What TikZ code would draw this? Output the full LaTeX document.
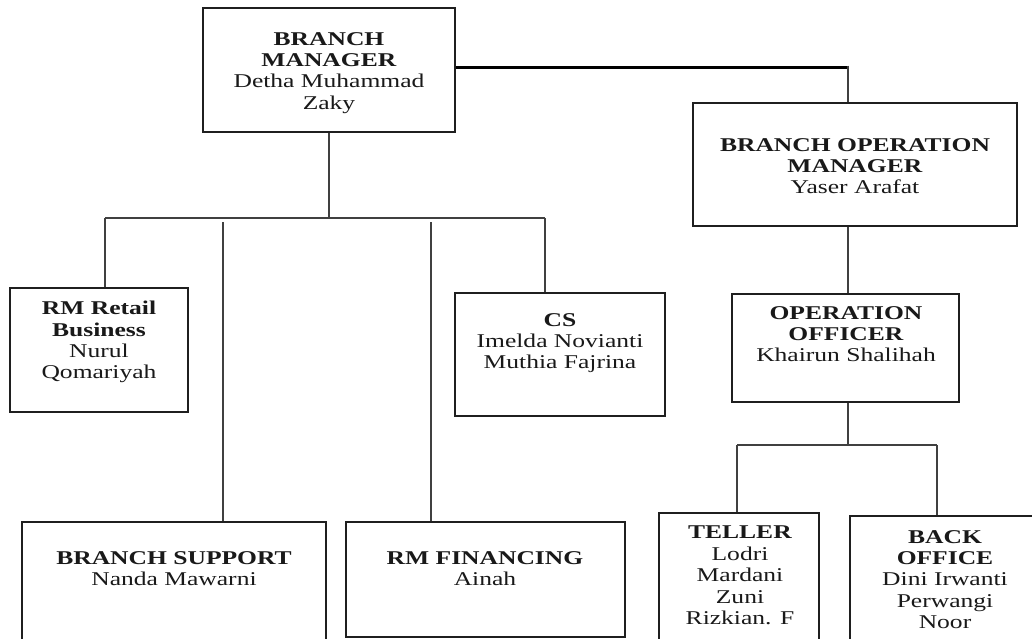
\documentclass[tikz,border=0pt]{standalone}
\usepackage{fontspec}
\setmainfont{Liberation Serif}[FakeStretch=1.31]
\begin{document}
\begin{tikzpicture}[x=1pt,y=-1pt,
  box/.style={draw=black!88, line width=2pt, rectangle, inner sep=0pt},
  lbl/.style={anchor=north, inner sep=0pt, align=center, text=black!90,
    font=\fontsize{19.5}{21.4}\selectfont},
  conn/.style={draw=black!75, line width=1.3pt},
  thickconn/.style={draw=black, line width=3pt}]
\useasboundingbox (0,0) rectangle (1032,638);
\clip (0,0) rectangle (1032,638);
\fill[white] (0,0) rectangle (1032,638);
% boxes
\node[box, minimum width=252pt, minimum height=124pt] (bm)  at (329,70) {};
\node[box, minimum width=324pt, minimum height=123pt] (bom) at (855,164.5) {};
\node[box, minimum width=178pt, minimum height=124pt] (rmr) at (99,350) {};
\node[box, minimum width=210pt, minimum height=123pt] (cs)  at (560,354.5) {};
\node[box, minimum width=227pt, minimum height=108pt] (oo)  at (845.5,348) {};
\node[box, minimum width=304pt, minimum height=123pt] (bs)  at (174,583.5) {};
\node[box, minimum width=279pt, minimum height=115pt] (rmf) at (485.5,579.5) {};
\node[box, minimum width=160pt, minimum height=132pt] (tel) at (739,579) {};
\node[box, minimum width=190pt, minimum height=129pt] (bo)  at (945,580.5) {};
% labels
\node[lbl] (tbm)  at (329,32) {\textbf{BRANCH}\\\textbf{MANAGER}\\Detha Muhammad\\Zaky};
\node[lbl] (tbom) at (855,138) {\textbf{BRANCH OPERATION}\\\textbf{MANAGER}\\Yaser Arafat};
\node[lbl] (trmr) at (99,301) {\textbf{RM Retail}\\\textbf{Business}\\Nurul\\Qomariyah};
\node[lbl] (tcs)  at (560,313) {\textbf{CS}\\Imelda Novianti\\Muthia Fajrina};
\node[lbl] (too)  at (846,306) {\textbf{OPERATION}\\\textbf{OFFICER}\\Khairun Shalihah};
\node[lbl] (tbs)  at (174,551) {\textbf{BRANCH SUPPORT}\\Nanda Mawarni};
\node[lbl] (trmf) at (485,551) {\textbf{RM FINANCING}\\Ainah};
\node[lbl] (ttel) at (740,526) {\textbf{TELLER}\\Lodri\\Mardani\\Zuni\\Rizkian. F};
\node[lbl] (tbo)  at (945,530) {\textbf{BACK}\\\textbf{OFFICE}\\Dini Irwanti\\Perwangi\\Noor};
% connectors
\coordinate (k) at ([xshift=-7pt]bom.north |- 0,67);
\draw[thickconn] ([yshift=3pt]bm.east) -- ([xshift=0.65pt]k);
\draw[conn] ([yshift=1.5pt]k) -- ([xshift=-7pt]bom.north);
\coordinate (b1) at (105,218);
\coordinate (b2) at (545,218);
\draw[conn] (bm.south) -- (bm.south |- b1);
\draw[conn] (b1) -- (b2);
\draw[conn] (b1) -- (b1 |- rmr.north);
\draw[conn] (b2) -- (b2 |- cs.north);
\coordinate (s1) at (223,222);
\coordinate (s2) at (431,222);
\draw[conn] (s1) -- (s1 |- bs.north);
\draw[conn] (s2) -- (s2 |- rmf.north);
\draw[conn] ([xshift=-7pt]bom.south) -- ([xshift=-7pt]bom.south |- oo.north);
\coordinate (t1) at (737,445);
\coordinate (t2) at (937,445);
\draw[conn] ([xshift=2.5pt]oo.south) -- ([xshift=2.5pt]oo.south |- t1);
\draw[conn] (t1) -- (t2);
\draw[conn] (t1) -- (t1 |- tel.north);
\draw[conn] (t2) -- (t2 |- bo.north);
\end{tikzpicture}
\end{document}
